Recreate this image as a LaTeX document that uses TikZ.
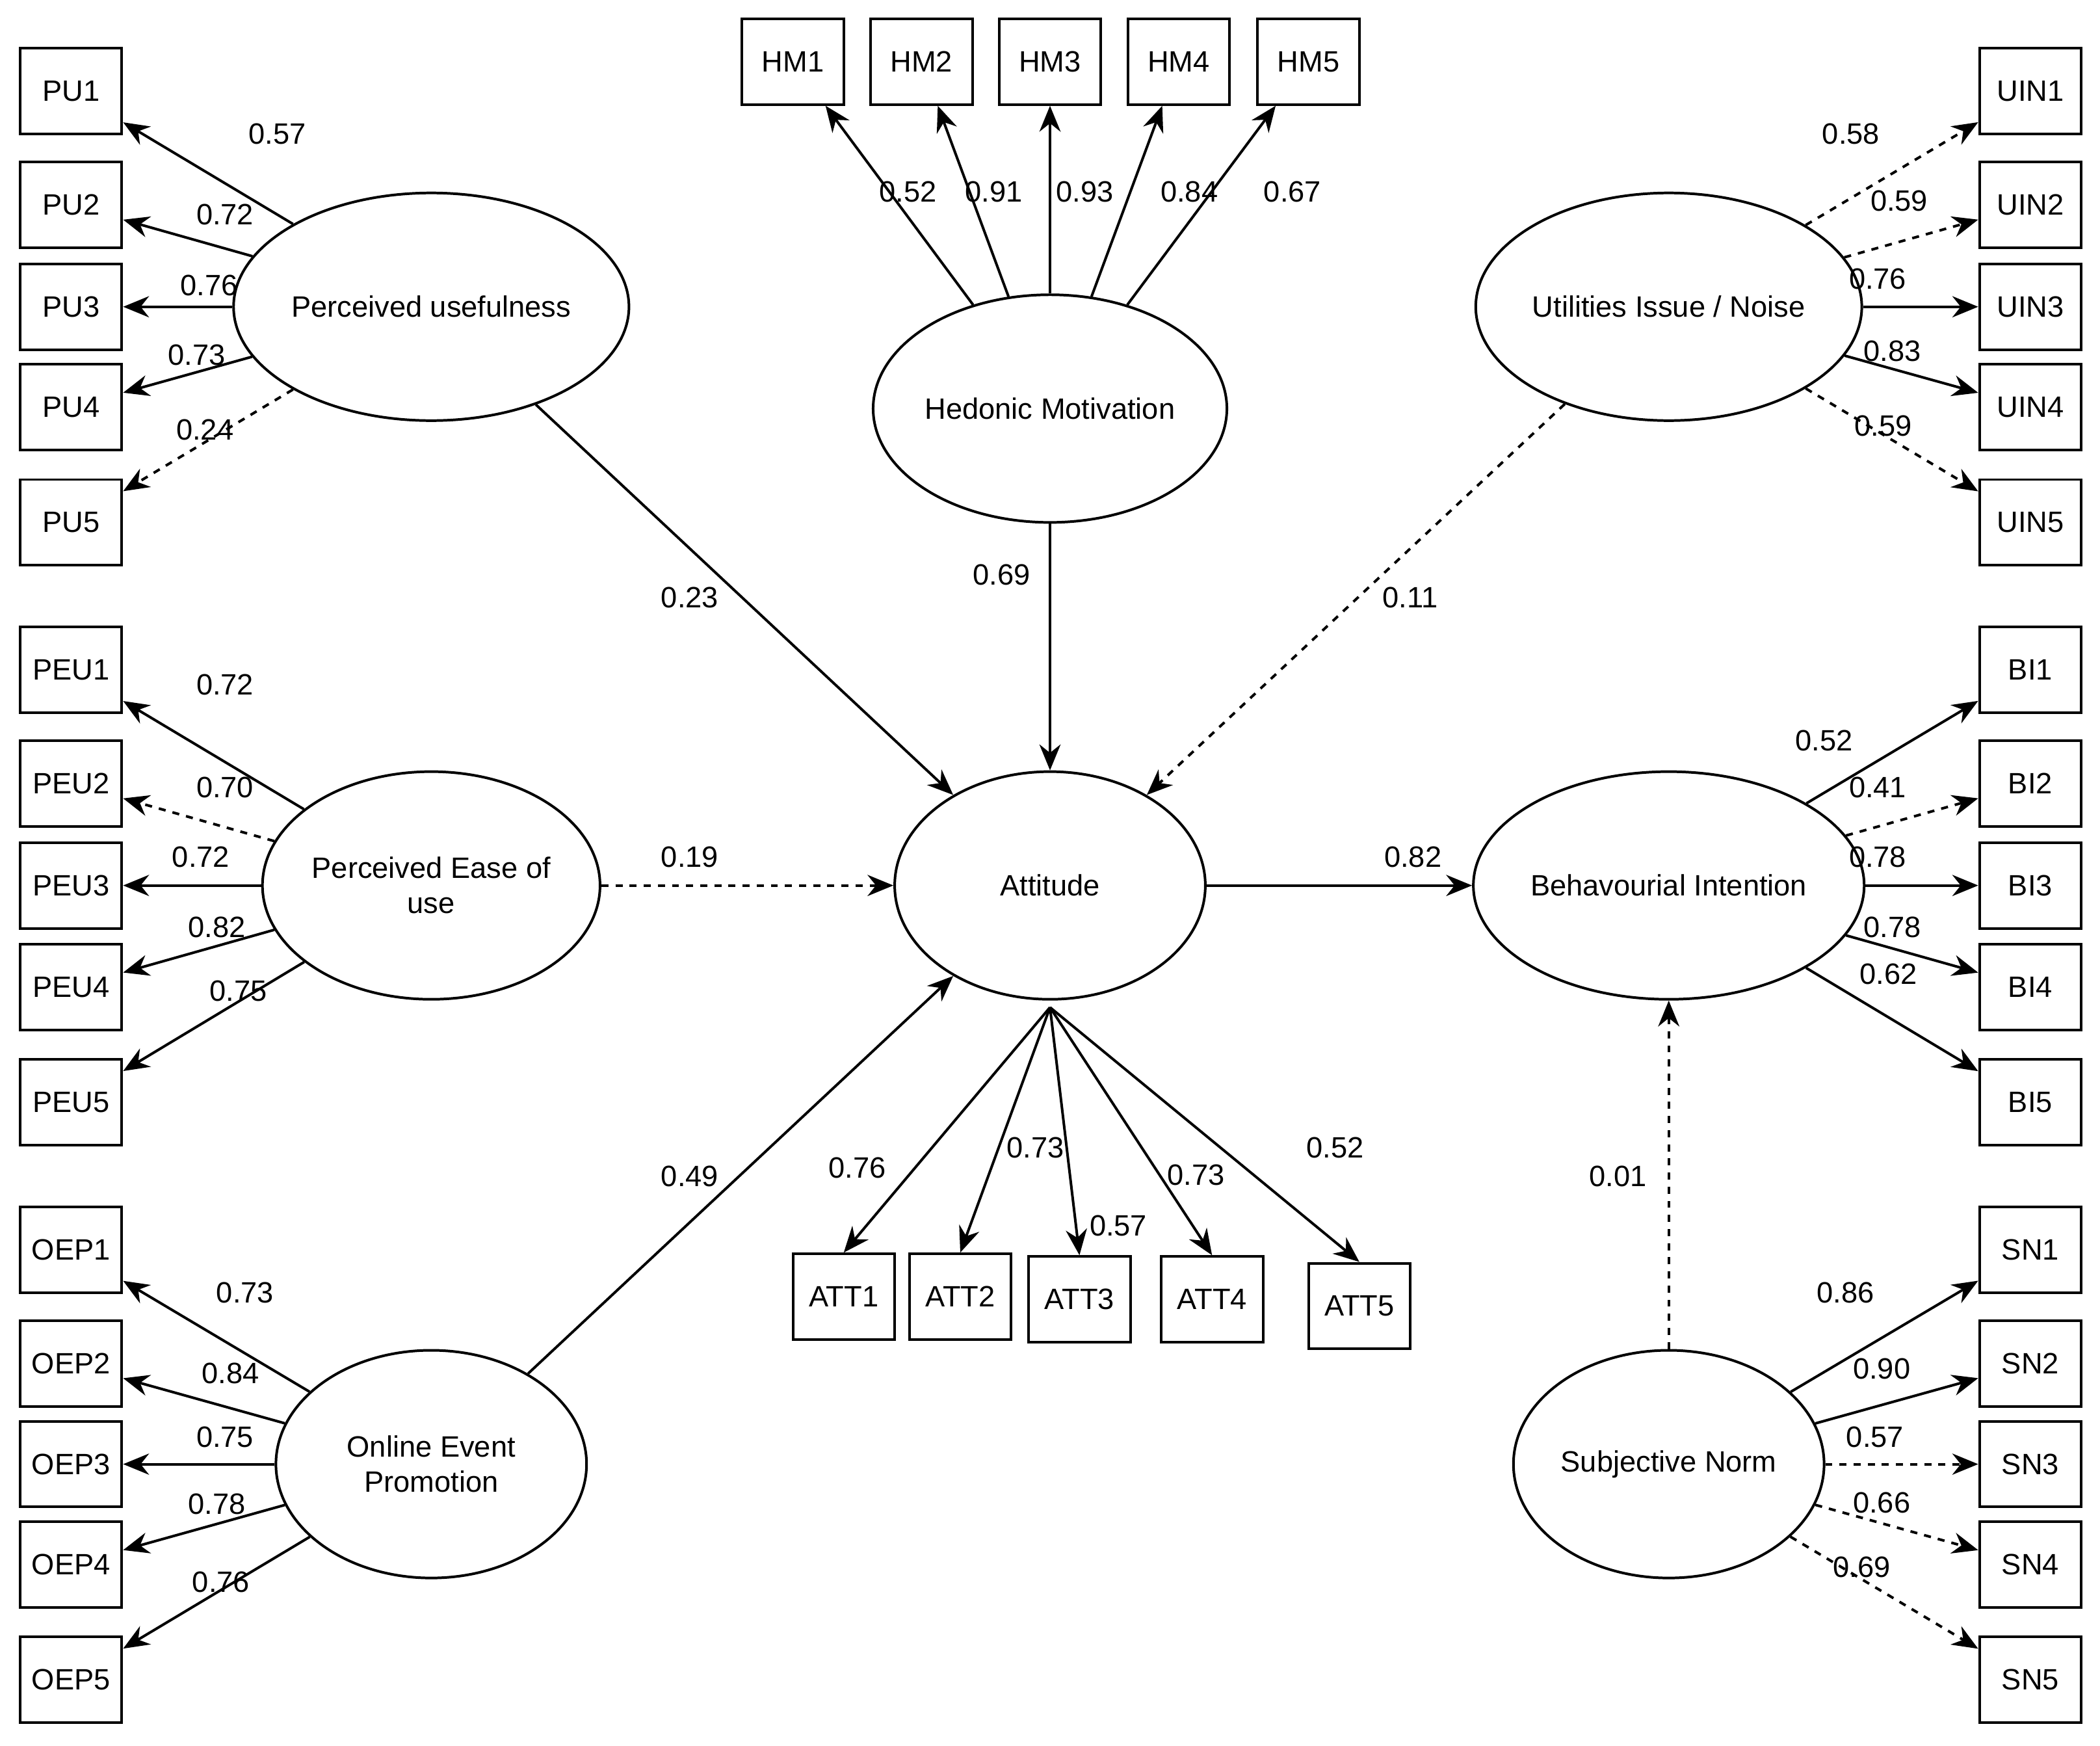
\documentclass[tikz,border=0pt]{standalone}
\usepackage{fontspec}
\setmainfont{Liberation Sans}
\usetikzlibrary{shapes.geometric,arrows.meta}

\tikzset{
  item/.style={draw, line width=1.1pt, minimum width=1.52cm, minimum height=1.28cm, inner sep=0pt},
  latent/.style={draw, ellipse, line width=1.1pt, minimum width=4.64cm, minimum height=3.4cm, inner sep=0pt, align=center},
  path/.style={line width=1.1pt, -{Stealth[length=11pt,width=9pt]}},
  weak/.style={path, dashed},
  lbl/.style={inner sep=1pt}
}

\begin{document}
\begin{tikzpicture}[x=0.02cm,y=-0.02cm, font=\fontsize{12.5}{15}\selectfont]
  \useasboundingbox (0,0) rectangle (1568,1303);

  % Latent constructs
  \node[latent] (pu)  at (322,229)  {Perceived usefulness};
  \node[latent] (hm)  at (784,305)  {Hedonic Motivation};
  \node[latent] (uin) at (1246,229) {Utilities Issue / Noise};
  \node[latent] (peu) at (322,661)  {Perceived Ease of\\use};
  \node[latent] (att) at (784,661)  {Attitude};
  \node[latent] (bi)  at (1246,661) {Behavourial Intention};
  \node[latent] (oep) at (322,1093) {Online Event\\Promotion};
  \node[latent] (sn)  at (1246,1093) {Subjective Norm};

  % Left indicators
  \foreach \n/\y/\s/\l/\lx/\ly in {1/68/path/0.57/207/100, 2/153/path/0.72/168/160, 3/229/path/0.76/156/213, 4/304/path/0.73/147/265, 5/390/weak/0.24/153/321} {
    \node[item] (pu\n) at (53,\y) {PU\n};
    \draw[\s] (pu) -- (pu\n);
    \node[lbl] at (\lx,\ly) {\l};
  }
  \foreach \n/\y/\s/\l/\lx/\ly in {1/500/path/0.72/168/511, 2/585/weak/0.70/168/588, 3/661/path/0.72/150/640, 4/737/path/0.82/162/692, 5/823/path/0.75/178/740} {
    \node[item] (peu\n) at (53,\y) {PEU\n};
    \draw[\s] (peu) -- (peu\n);
    \node[lbl] at (\lx,\ly) {\l};
  }
  \foreach \n/\y/\s/\l/\lx/\ly in {1/933/path/0.73/183/965, 2/1018/path/0.84/172/1025, 3/1093/path/0.75/168/1073, 4/1168/path/0.78/162/1123, 5/1254/path/0.76/165/1181} {
    \node[item] (oep\n) at (53,\y) {OEP\n};
    \draw[\s] (oep) -- (oep\n);
    \node[lbl] at (\lx,\ly) {\l};
  }

  % Right indicators
  \foreach \n/\y/\s/\l/\lx/\ly in {1/68/weak/0.58/1382/100, 2/153/weak/0.59/1418/150, 3/229/path/0.76/1402/208, 4/304/path/0.83/1413/262, 5/390/weak/0.59/1406/318} {
    \node[item] (uin\n) at (1516,\y) {UIN\n};
    \draw[\s] (uin) -- (uin\n);
    \node[lbl] at (\lx,\ly) {\l};
  }
  \foreach \n/\y/\s/\l/\lx/\ly in {1/500/path/0.52/1362/553, 2/585/weak/0.41/1402/588, 3/661/path/0.78/1402/640, 4/737/path/0.78/1413/692, 5/823/path/0.62/1410/727} {
    \node[item] (bi\n) at (1516,\y) {BI\n};
    \draw[\s] (bi) -- (bi\n);
    \node[lbl] at (\lx,\ly) {\l};
  }
  \foreach \n/\y/\s/\l/\lx/\ly in {1/933/path/0.86/1378/965, 2/1018/path/0.90/1405/1022, 3/1093/weak/0.57/1400/1073, 4/1168/weak/0.66/1405/1122, 5/1254/weak/0.69/1390/1170} {
    \node[item] (sn\n) at (1516,\y) {SN\n};
    \draw[\s] (sn) -- (sn\n);
    \node[lbl] at (\lx,\ly) {\l};
  }

  % Hedonic motivation indicators
  \foreach \n/\x/\l/\lx in {1/592/0.52/678, 2/688/0.91/742, 3/784/0.93/810, 4/880/0.84/888, 5/977/0.67/965} {
    \node[item] (hm\n) at (\x,46) {HM\n};
    \draw[path] (hm) -- (hm\n);
    \node[lbl] at (\lx,143) {\l};
  }

  % Attitude indicators
  \coordinate (attb) at (784,752);
  \foreach \n/\x/\y/\l/\lx/\ly in {1/630/968/0.76/640/872, 2/717/968/0.73/773/857, 3/806/970/0.57/835/915, 4/905/970/0.73/893/877, 5/1015/975/0.52/997/857} {
    \node[item] (att\n) at (\x,\y) {ATT\n};
    \draw[path] (attb) -- (att\n.north);
    \node[lbl] at (\lx,\ly) {\l};
  }

  % Structural paths
  \draw[path] (pu) -- (att);  \node[lbl] at (515,446) {0.23};
  \draw[path] (hm) -- (att);  \node[lbl] at (748,429) {0.69};
  \draw[weak] (uin) -- (att); \node[lbl] at (1053,446) {0.11};
  \draw[weak] (peu) -- (att); \node[lbl] at (515,640) {0.19};
  \draw[path] (att) -- (bi);  \node[lbl] at (1055,640) {0.82};
  \draw[path] (oep) -- (att); \node[lbl] at (515,878) {0.49};
  \draw[weak] (sn) -- (bi);   \node[lbl] at (1208,878) {0.01};
\end{tikzpicture}
\end{document}
